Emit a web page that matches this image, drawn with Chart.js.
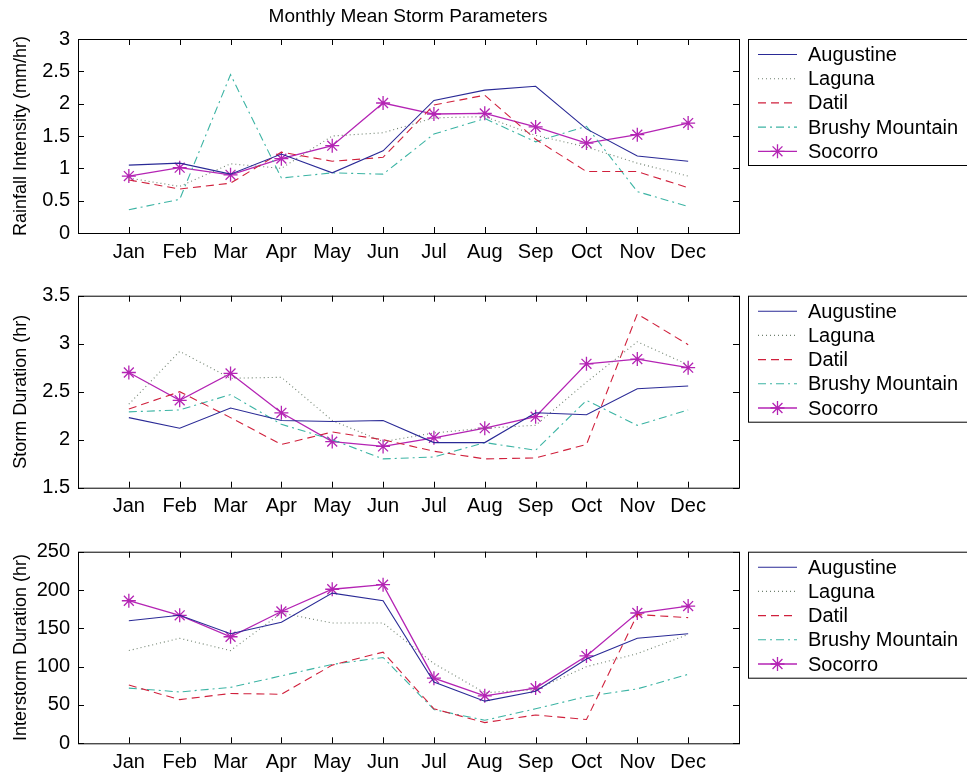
<!DOCTYPE html>
<html>
<head>
<meta charset="utf-8">
<script src="https://cdn.jsdelivr.net/npm/chart.js@4.4.1/dist/chart.umd.min.js"></script>
<style>
  body { margin: 0; background: #fff; }
  #wrap { position: relative; width: 967px; height: 773px; background: #fff; overflow: hidden; }
  canvas { position: absolute; left: 0; }
</style>
</head>
<body>
<div id="wrap">
  <canvas id="rain" width="967" height="270" style="top:0"></canvas>
  <canvas id="dur" width="967" height="265" style="top:260px"></canvas>
  <canvas id="inter" width="967" height="258" style="top:515px"></canvas>
</div>
<script>
const months = ['Jan', 'Feb', 'Mar', 'Apr', 'May', 'Jun', 'Jul', 'Aug', 'Sep', 'Oct', 'Nov', 'Dec'];
const stations = ['Augustine', 'Laguna', 'Datil', 'Brushy Mountain', 'Socorro'];

// rainfall intensity (mm/hr)
const rainAugustine = [1.05, 1.08, 0.91, 1.22, 0.93, 1.27, 2.05, 2.21, 2.27, 1.61, 1.19, 1.11];
const rainLaguna = [0.85, 0.72, 1.07, 1.0, 1.5, 1.55, 1.78, 1.8, 1.51, 1.33, 1.08, 0.88];
const rainDatil = [0.82, 0.68, 0.77, 1.25, 1.11, 1.17, 1.98, 2.13, 1.45, 0.95, 0.95, 0.7];
const rainBrushy = [0.36, 0.52, 2.45, 0.85, 0.93, 0.91, 1.53, 1.77, 1.41, 1.65, 0.64, 0.41];
const rainSocorro = [0.88, 1.01, 0.9, 1.15, 1.35, 2.01, 1.84, 1.85, 1.64, 1.39, 1.52, 1.7];
const rainTicks = [0, 0.5, 1, 1.5, 2, 2.5, 3];
const rainTickLabels = ['0', '0.5', '1', '1.5', '2', '2.5', '3'];

// storm duration (hr)
const durAugustine = [2.23, 2.12, 2.33, 2.2, 2.19, 2.2, 1.97, 1.97, 2.28, 2.26, 2.53, 2.56];
const durLaguna = [2.37, 2.92, 2.64, 2.65, 2.2, 1.98, 2.07, 2.12, 2.15, 2.6, 3.02, 2.78];
const durDatil = [2.32, 2.5, 2.23, 1.95, 2.08, 2.0, 1.88, 1.8, 1.81, 1.95, 3.31, 2.99];
const durBrushy = [2.29, 2.31, 2.47, 2.16, 2.0, 1.8, 1.82, 1.97, 1.89, 2.41, 2.15, 2.31];
const durSocorro = [2.7, 2.41, 2.69, 2.28, 1.98, 1.93, 2.02, 2.12, 2.24, 2.79, 2.84, 2.75];
const durTicks = [1.5, 2, 2.5, 3, 3.5];
const durTickLabels = ['1.5', '2', '2.5', '3', '3.5'];

// interstorm duration (hr)
const interAugustine = [160, 167, 143, 158, 196, 186, 80, 55, 68, 110, 137, 143];
const interLaguna = [121, 137, 121, 170, 157, 157, 104, 66, 70, 100, 117, 142];
const interDatil = [76, 57, 65, 64, 102, 119, 45, 27, 37, 31, 168, 164];
const interBrushy = [72, 67, 73, 88, 103, 112, 44, 30, 45, 61, 71, 90];
const interSocorro = [186, 167, 139, 172, 201, 207, 85, 62, 72, 114, 170, 179];
const interTicks = [0, 50, 100, 150, 200, 250];
const interTickLabels = ['0', '50', '100', '150', '200', '250'];

const colors = ['#2a2a96', '#6f806f', '#d0203c', '#3cb4a4', '#b424b4'];
const dashes = [[], [1, 3], [8, 5], [8, 4, 2, 4], []];
const FONT = "'Liberation Sans', Arial, sans-serif";

// MATLAB-style box, inward ticks and boxed legend
const matlabFrame = {
  id: 'matlabFrame',
  afterDraw(chart) {
    const { ctx, chartArea: a, scales: { x, y } } = chart;
    ctx.save();
    ctx.strokeStyle = '#000';
    ctx.lineWidth = 1;
    ctx.setLineDash([]);
    ctx.strokeRect(a.left + 0.5, a.top + 0.5, a.right - a.left, a.bottom - a.top);
    ctx.beginPath();
    x.ticks.forEach(t => {
      const px = Math.round(x.getPixelForValue(t.value)) + 0.5;
      ctx.moveTo(px, a.bottom); ctx.lineTo(px, a.bottom - 6);
      ctx.moveTo(px, a.top); ctx.lineTo(px, a.top + 6);
    });
    y.ticks.forEach(t => {
      const py = Math.round(y.getPixelForValue(t.value)) + 0.5;
      ctx.moveTo(a.left, py); ctx.lineTo(a.left + 6, py);
      ctx.moveTo(a.right, py); ctx.lineTo(a.right - 6, py);
    });
    ctx.stroke();

    const lx = a.right + 9, ly = a.top;
    ctx.fillStyle = '#fff';
    ctx.fillRect(lx, ly, 240, 126);
    ctx.strokeRect(lx + 0.5, ly + 0.5, 240, 126);
    ctx.font = '20px ' + FONT;
    ctx.textBaseline = 'middle';
    chart.data.datasets.forEach((ds, i) => {
      const cy = ly + 15.5 + i * 24.2;
      ctx.strokeStyle = ds.borderColor;
      ctx.lineWidth = ds.borderWidth;
      ctx.setLineDash(ds.borderDash);
      ctx.beginPath();
      ctx.moveTo(lx + 10, cy); ctx.lineTo(lx + 49, cy);
      ctx.stroke();
      ctx.setLineDash([]);
      if (ds.pointRadius > 0) {
        Chart.helpers.drawPoint(ctx, { pointStyle: 'star', radius: ds.pointRadius, rotation: 0, borderWidth: ds.borderWidth }, lx + 29.5, cy);
      }
      ctx.fillStyle = '#000';
      ctx.fillText(ds.label, lx + 60, cy + 1);
    });
    ctx.restore();
  }
};

const figTitle = {
  id: 'figTitle',
  afterDraw(chart) {
    const { ctx } = chart;
    ctx.save();
    ctx.font = '19px ' + FONT;
    ctx.fillStyle = '#000';
    ctx.textAlign = 'center';
    ctx.textBaseline = 'middle';
    ctx.fillText('Monthly Mean Storm Parameters', 408, 17);
    ctx.restore();
  }
};

function makeChart(id, series, yMin, yMax, yTicks, yTickLabels, yTitle, padTop, xHeight, extra) {
  const datasets = series.map((vals, i) => ({
    label: stations[i],
    data: vals.map((v, k) => ({ x: k + 1, y: v })),
    borderColor: colors[i],
    backgroundColor: colors[i],
    borderWidth: i === 4 ? 1.3 : 1.1,
    borderDash: dashes[i],
    pointStyle: 'star',
    pointRadius: i === 4 ? 7 : 0,
    pointBorderWidth: 1.3,
    tension: 0,
    fill: false
  }));
  return new Chart(document.getElementById(id), {
    type: 'line',
    data: { datasets },
    plugins: [matlabFrame].concat(extra || []),
    options: {
      responsive: false,
      animation: false,
      devicePixelRatio: 1,
      layout: { padding: { left: 0, right: 228, top: padTop, bottom: 0 } },
      plugins: { legend: { display: false }, tooltip: { enabled: false } },
      scales: {
        x: {
          type: 'linear',
          min: 0,
          max: 13,
          grid: { display: false },
          border: { display: false },
          afterBuildTicks: s => { s.ticks = months.map((m, k) => ({ value: k + 1 })); },
          afterFit: s => { s.height = xHeight; },
          ticks: {
            autoSkip: false,
            maxRotation: 0,
            padding: -1,
            color: '#000',
            font: { family: FONT, size: 20 },
            callback: (v, k) => months[k]
          }
        },
        y: {
          type: 'linear',
          min: yMin,
          max: yMax,
          grid: { display: false },
          border: { display: false },
          afterBuildTicks: s => { s.ticks = yTicks.map(v => ({ value: v })); },
          afterFit: s => { s.width = 78; },
          ticks: {
            padding: 0,
            color: '#000',
            font: { family: FONT, size: 20 },
            callback: (v, k) => yTickLabels[k]
          },
          title: {
            display: true,
            text: yTitle,
            color: '#000',
            font: { family: FONT, size: 18 },
            padding: { top: 10, bottom: 0 }
          }
        }
      }
    }
  });
}

makeChart('rain', [rainAugustine, rainLaguna, rainDatil, rainBrushy, rainSocorro],
  0, 3, rainTicks, rainTickLabels, 'Rainfall Intensity (mm/hr)', 39, 37, [figTitle]);
makeChart('dur', [durAugustine, durLaguna, durDatil, durBrushy, durSocorro],
  1.5, 3.5, durTicks, durTickLabels, 'Storm Duration (hr)', 35.7, 37.3, []);
makeChart('inter', [interAugustine, interLaguna, interDatil, interBrushy, interSocorro],
  0, 250, interTicks, interTickLabels, 'Interstorm Duration (hr)', 36.7, 29.7, []);
</script>
</body>
</html>
